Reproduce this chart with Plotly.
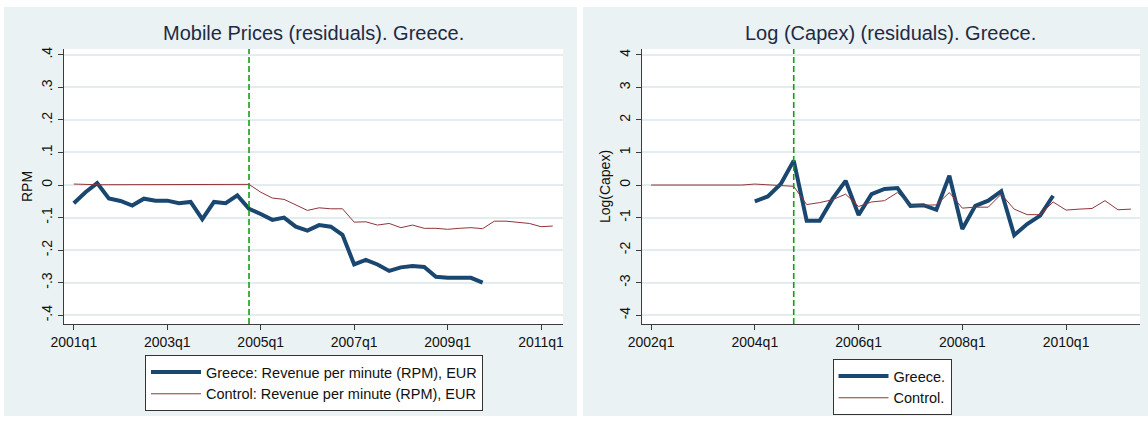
import plotly.graph_objects as go

# quarterly series, Greece vs control group (residuals)
rpm_start = "2001q1"
rpm_greece = [
    -0.056, -0.022, 0.006, -0.041,
    -0.049, -0.063, -0.042, -0.048,
    -0.048, -0.056, -0.052, -0.105,
    -0.052, -0.056, -0.032, -0.073,
    -0.089, -0.107, -0.100, -0.128,
    -0.140, -0.123, -0.128, -0.153,
    -0.244, -0.230, -0.244, -0.264,
    -0.253, -0.249, -0.252, -0.282,
    -0.285, -0.285, -0.285, -0.300,
]
rpm_control = [
    0.003, 0.001, 0.001, 0.001,
    0.001, 0.001, 0.002, 0.001,
    0.001, 0.002, 0.001, 0.002,
    0.001, 0.001, 0.001, 0.002,
    -0.022, -0.040, -0.044, -0.060,
    -0.078, -0.070, -0.073, -0.073,
    -0.114, -0.113, -0.123, -0.118,
    -0.131, -0.123, -0.133, -0.133,
    -0.136, -0.133, -0.131, -0.134,
    -0.111, -0.111, -0.114, -0.118,
    -0.128, -0.126,
]

capex_greece_start = "2004q1"
capex_greece = [
    -0.50, -0.35, 0.03, 0.75,
    -1.10, -1.10, -0.42, 0.13,
    -0.92, -0.28, -0.12, -0.09,
    -0.64, -0.62, -0.76, 0.29,
    -1.35, -0.64, -0.48, -0.19,
    -1.54, -1.20, -0.94, -0.33,
]
capex_control_start = "2002q1"
capex_control = [
    0.0, 0.0, 0.0, 0.0,
    0.0, 0.0, 0.0, 0.0,
    0.03, 0.01, 0.0, -0.04,
    -0.60, -0.54, -0.45, -0.28,
    -0.66, -0.52, -0.48, -0.23,
    -0.63, -0.63, -0.61, -0.23,
    -0.71, -0.68, -0.68, -0.28,
    -0.74, -0.91, -0.91, -0.52,
    -0.77, -0.74, -0.72, -0.48,
    -0.76, -0.74,
]

treatment_q = "2004q4"

rpm_ticks = ["2001q1", "2003q1", "2005q1", "2007q1", "2009q1", "2011q1"]
capex_ticks = ["2002q1", "2004q1", "2006q1", "2008q1", "2010q1"]
rpm_yvals = [0.4, 0.3, 0.2, 0.1, 0, -0.1, -0.2, -0.3, -0.4]
rpm_ylabels = [".4", ".3", ".2", ".1", "0", "-.1", "-.2", "-.3", "-.4"]
capex_yvals = [4, 3, 2, 1, 0, -1, -2, -3, -4]
capex_ylabels = ["4", "3", "2", "1", "0", "-1", "-2", "-3", "-4"]


def qnum(label):
    y, q = label.split("q")
    return int(y) + (int(q) - 1) / 4


def qseries(start, n):
    s = qnum(start)
    return [s + i / 4 for i in range(n)]


W, H = 1148, 422
NAVY = "#1A476F"
MAROON = "#90353B"
GREEN = "#12A012"
PANEL = "#EAF2F3"
GRID = "#E3ECEF"
FONT = "Arial, Liberation Sans, sans-serif"

# plot areas in pixels (left, top, right, bottom)
left_box = (64, 49, 563, 324)
right_box = (642, 49, 1140, 324)


def px_dom(box):
    l, t, r, b = box
    return [l / W, r / W], [1 - b / H, 1 - t / H]


fig = go.Figure()

fig.add_trace(go.Scatter(
    x=qseries(rpm_start, len(rpm_greece)), y=rpm_greece, mode="lines",
    line=dict(color=NAVY, width=4), name="Greece: Revenue per minute (RPM), EUR",
    xaxis="x", yaxis="y", legend="legend"))
fig.add_trace(go.Scatter(
    x=qseries(rpm_start, len(rpm_control)), y=rpm_control, mode="lines",
    line=dict(color=MAROON, width=1), name="Control: Revenue per minute (RPM), EUR",
    xaxis="x", yaxis="y", legend="legend"))
fig.add_trace(go.Scatter(
    x=qseries(capex_greece_start, len(capex_greece)), y=capex_greece, mode="lines",
    line=dict(color=NAVY, width=4), name="Greece.",
    xaxis="x2", yaxis="y2", legend="legend2"))
fig.add_trace(go.Scatter(
    x=qseries(capex_control_start, len(capex_control)), y=capex_control, mode="lines",
    line=dict(color=MAROON, width=1), name="Control.",
    xaxis="x2", yaxis="y2", legend="legend2"))

lx, ly = px_dom(left_box)
rx, ry = px_dom(right_box)

tickfont = dict(family=FONT, size=14, color="#111111")
axis_common = dict(
    showline=True, linecolor="#3C3C3C", linewidth=1, ticks="outside",
    ticklen=5, tickcolor="#3C3C3C", tickfont=tickfont, zeroline=False,
    automargin=False,
)
legend_common = dict(
    xanchor="center", yanchor="top", bgcolor="white",
    bordercolor="#333333", borderwidth=1,
    font=dict(family=FONT, size=14.5, color="#111111"),
    itemwidth=50, tracegroupgap=0,
)

fig.update_layout(
    width=W, height=H,
    margin=dict(l=0, r=0, t=0, b=0, autoexpand=False),
    paper_bgcolor="white",
    plot_bgcolor="white",
    font=dict(family=FONT, size=14, color="#111111"),
    xaxis=dict(domain=lx, anchor="y", range=[2000.79, 2011.47],
               tickvals=[qnum(t) for t in rpm_ticks], ticktext=rpm_ticks,
               showgrid=False, **axis_common),
    yaxis=dict(domain=ly, anchor="x", range=[-0.427, 0.418],
               tickvals=rpm_yvals, ticktext=rpm_ylabels, tickangle=-90,
               showgrid=True, gridcolor=GRID, gridwidth=1.5,
               title=dict(text="RPM", font=dict(family=FONT, size=14), standoff=3),
               **axis_common),
    xaxis2=dict(domain=rx, anchor="y2", range=[2001.825, 2011.425],
                tickvals=[qnum(t) for t in capex_ticks], ticktext=capex_ticks,
                showgrid=False, **axis_common),
    yaxis2=dict(domain=ry, anchor="x2", range=[-4.27, 4.18],
                tickvals=capex_yvals, ticktext=capex_ylabels, tickangle=-90,
                showgrid=True, gridcolor=GRID, gridwidth=1.5,
                title=dict(text="Log(Capex)", font=dict(family=FONT, size=14), standoff=3),
                **axis_common),
    legend=dict(x=314 / W, y=1 - 355 / H, **legend_common),
    legend2=dict(x=892 / W, y=1 - 359 / H, **legend_common),
    showlegend=True,
)

# stata-like panel backgrounds, white plot regions on top
shapes = [
    dict(type="rect", xref="paper", yref="paper", layer="below",
         x0=4 / W, x1=577 / W, y0=1 - 416 / H, y1=1 - 7 / H,
         fillcolor=PANEL, line=dict(width=0)),
    dict(type="rect", xref="paper", yref="paper", layer="below",
         x0=583 / W, x1=1, y0=1 - 416 / H, y1=1 - 7 / H,
         fillcolor=PANEL, line=dict(width=0)),
]
for (x0, x1), (y0, y1) in [(lx, ly), (rx, ry)]:
    shapes.append(dict(type="rect", xref="paper", yref="paper", layer="below",
                       x0=x0, x1=x1, y0=y0, y1=y1,
                       fillcolor="white", line=dict(width=0)))
# treatment quarter
for xr, yr in [("x", "y"), ("x2", "y2")]:
    shapes.append(dict(type="line", xref=xr, yref=yr + " domain",
                       x0=qnum(treatment_q), x1=qnum(treatment_q), y0=0, y1=1,
                       line=dict(color=GREEN, width=1.6, dash="6px,3px")))
fig.update_layout(shapes=shapes)

title_font = dict(family=FONT, size=20, color="#1F2A44")
fig.add_annotation(text="Mobile Prices (residuals). Greece.", xref="paper", yref="paper",
                   x=(lx[0] + lx[1]) / 2, y=1 - 33 / H, showarrow=False,
                   xanchor="center", yanchor="middle", font=title_font)
fig.add_annotation(text="Log (Capex) (residuals). Greece.", xref="paper", yref="paper",
                   x=(rx[0] + rx[1]) / 2, y=1 - 33 / H, showarrow=False,
                   xanchor="center", yanchor="middle", font=title_font)

# drop the default page margin so the figure sits at the window origin
fig.write_html("out.html", config={"displayModeBar": False},
               post_script="document.body.style.margin='0';")
